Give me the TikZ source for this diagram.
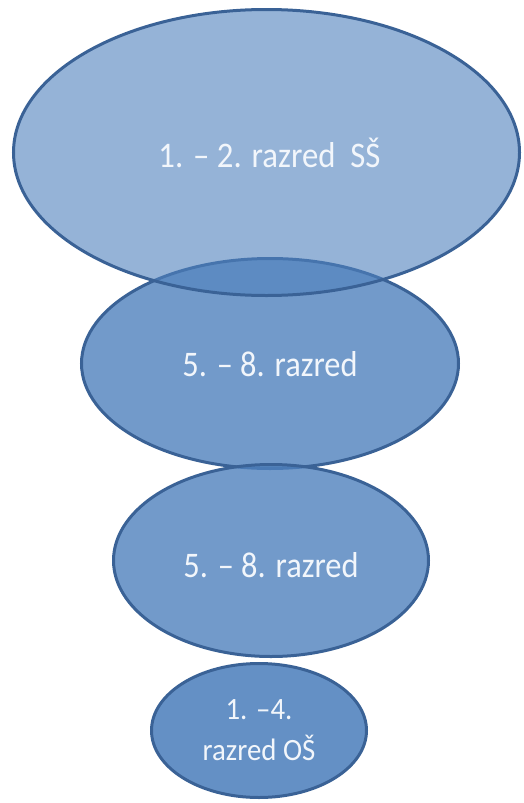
\documentclass[tikz,border=0pt]{standalone}
\usepackage{fontspec}
\setmainfont{Carlito}
\usetikzlibrary{shapes.geometric}
\definecolor{bluefill}{HTML}{4F81BD}
\definecolor{blueline}{HTML}{3A6296}
\definecolor{txt}{HTML}{F2F6FB}
\tikzset{
  oval/.style={ellipse, draw=blueline, line width=3pt, fill=bluefill, inner sep=0pt},
  lbl/.style={text=txt, align=center, inner sep=0pt}
}
\begin{document}
\begin{tikzpicture}[x=1pt,y=-1pt]
\useasboundingbox (0,0) rectangle (523,803);
\node[oval, fill opacity=0.8, minimum width=377pt, minimum height=210pt] (e2) at (270,363.5) {};
\node[oval, fill opacity=0.8, minimum width=315pt, minimum height=192pt] (e3) at (271,560.5) {};
\node[oval, fill opacity=0.88, minimum width=215pt, minimum height=134pt] (e4) at (259,730.5) {};
\node[oval, fill opacity=0.6, minimum width=506pt, minimum height=286pt] (e1) at (266.5,152.5) {};
\node[lbl, font=\fontsize{36}{40}\selectfont\addfontfeature{FakeStretch=0.91}] (t1) at ([xshift=3pt]e1.center) {1. – 2. razred\ \ SŠ};
\node[lbl, font=\fontsize{36}{40}\selectfont\addfontfeature{FakeStretch=0.9}] (t2) at ([yshift=-1pt]e2.center) {5. – 8. razred};
\node[lbl, font=\fontsize{36}{40}\selectfont\addfontfeature{FakeStretch=0.9}] (t3) at ([yshift=-5pt]e3.center) {5. – 8. razred};
\node[lbl, font=\fontsize{31}{41}\selectfont\addfontfeature{FakeStretch=0.93}] (t4) at ([yshift=0pt]e4.center) {1. –4.\\razred OŠ};
\end{tikzpicture}
\end{document}
